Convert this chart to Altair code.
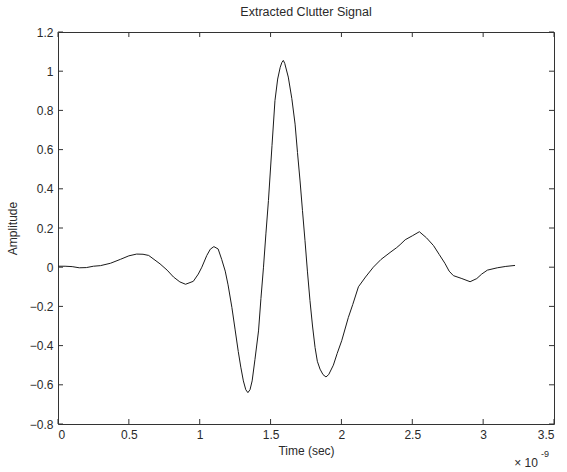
import altair as alt
import pandas as pd

# time in units of 1e-9 s
t = [0, 0.05, 0.1, 0.15, 0.2, 0.25, 0.3, 0.37, 0.44, 0.5, 0.555, 0.6, 0.64, 0.72, 0.77,
     0.815, 0.86, 0.9, 0.955, 0.99, 1.015, 1.05, 1.075, 1.1, 1.13, 1.155, 1.18, 1.2,
     1.227, 1.25, 1.272, 1.29, 1.308, 1.325, 1.34, 1.355, 1.37, 1.39, 1.415, 1.432,
     1.45, 1.467, 1.485, 1.51, 1.531, 1.55, 1.568, 1.58, 1.59, 1.6, 1.625, 1.65, 1.673,
     1.69, 1.708, 1.725, 1.743, 1.76, 1.778, 1.796, 1.814, 1.83, 1.849, 1.87, 1.891,
     1.91, 1.943, 1.97, 2.002, 2.049, 2.08, 2.12, 2.17, 2.225, 2.28, 2.343, 2.39, 2.414,
     2.45, 2.5, 2.55, 2.6, 2.65, 2.69, 2.73, 2.76, 2.79, 2.85, 2.908, 2.955, 2.99, 3.03,
     3.1, 3.16, 3.225]
amp = [0.005, 0.005, 0.003, -0.003, -0.002, 0.005, 0.008, 0.02, 0.04, 0.058, 0.067, 0.066,
       0.06, 0.017, -0.015, -0.05, -0.075, -0.087, -0.072, -0.035, 0.0, 0.06, 0.092, 0.105,
       0.093, 0.04, -0.02, -0.09, -0.205, -0.32, -0.43, -0.51, -0.58, -0.625, -0.64,
       -0.625, -0.58, -0.47, -0.325, -0.16, 0.0, 0.17, 0.34, 0.62, 0.85, 0.96, 1.02,
       1.045, 1.055, 1.04, 0.97, 0.86, 0.73, 0.585, 0.44, 0.29, 0.135, -0.02, -0.17,
       -0.30, -0.41, -0.48, -0.52, -0.548, -0.56, -0.548, -0.50, -0.44, -0.375, -0.256,
       -0.19, -0.10, -0.05, 0.0, 0.04, 0.075, 0.10, 0.115, 0.14, 0.16, 0.181, 0.15, 0.11,
       0.065, 0.02, -0.02, -0.043, -0.058, -0.074, -0.058, -0.035, -0.015, -0.003, 0.004,
       0.009]

x_ticks = [0, 0.5, 1, 1.5, 2, 2.5, 3, 3.5]
y_ticks = [-0.8, -0.6, -0.4, -0.2, 0, 0.2, 0.4, 0.6, 0.8, 1.0, 1.2]

W, H = 496, 392
FONT = "Liberation Sans"
TXT = "#2a2a2a"

df = pd.DataFrame({"t": t, "amp": amp})
dfx = pd.DataFrame({"t": x_ticks})
dfy = pd.DataFrame({"amp": y_ticks})

xs = alt.Scale(domain=[0, 3.5], nice=False, zero=False)
ys = alt.Scale(domain=[-0.8, 1.2], nice=False, zero=False)

x_axis = alt.Axis(values=x_ticks, format="~g", ticks=False, domain=False,
                  grid=False, labelPadding=5, titlePadding=5,
                  labelFont=FONT, titleFont=FONT, labelFontSize=12,
                  titleFontSize=12, titleFontWeight="normal",
                  labelColor=TXT, titleColor=TXT)
y_axis = alt.Axis(values=y_ticks, format=".1~f", ticks=False, domain=False,
                  grid=False, labelPadding=5, titlePadding=10,
                  labelFont=FONT, titleFont=FONT, labelFontSize=12,
                  titleFontSize=12, titleFontWeight="normal",
                  labelColor=TXT, titleColor=TXT)

X = alt.X("t:Q", scale=xs, title="Time (sec)", axis=x_axis)
Y = alt.Y("amp:Q", scale=ys, title="Amplitude", axis=y_axis)

line = alt.Chart(df).mark_line(color="#1a1a1a", strokeWidth=1).encode(x=X, y=Y)

tick_color = "#333333"
bot = alt.Chart(dfx).mark_rule(color=tick_color, strokeWidth=1).encode(
    x=X, y=alt.value(H), y2=alt.value(H - 5))
top = alt.Chart(dfx).mark_rule(color=tick_color, strokeWidth=1).encode(
    x=X, y=alt.value(0), y2=alt.value(5))
left = alt.Chart(dfy).mark_rule(color=tick_color, strokeWidth=1).encode(
    y=Y, x=alt.value(0), x2=alt.value(5))
right = alt.Chart(dfy).mark_rule(color=tick_color, strokeWidth=1).encode(
    y=Y, x=alt.value(W - 5), x2=alt.value(W))

times10 = alt.Chart(pd.DataFrame({"s": ["\u00d7 10"]})).mark_text(
    font=FONT, fontSize=12, color=TXT, align="center", baseline="middle", dx=-28
).encode(x=alt.datum(3.5, scale=xs), y=alt.value(H + 39), text="s:N")
expo = alt.Chart(pd.DataFrame({"s": ["-9"]})).mark_text(
    font=FONT, fontSize=9, color=TXT, align="center", baseline="middle", dx=-9
).encode(x=alt.datum(3.5, scale=xs), y=alt.value(H + 30), text="s:N")

chart = alt.layer(line, bot, top, left, right, times10, expo).properties(
    width=W, height=H,
    title=alt.Title("Extracted Clutter Signal", font=FONT, fontSize=12.5,
                    fontWeight="normal", color=TXT, offset=8),
    autosize=alt.AutoSizeParams(type="none"),
    padding={"left": 58, "top": 32, "right": 13, "bottom": 48},
    background="white",
).configure_view(stroke="#333333", strokeWidth=1)

chart.save("out.html", embed_options={"renderer": "svg", "actions": False})
